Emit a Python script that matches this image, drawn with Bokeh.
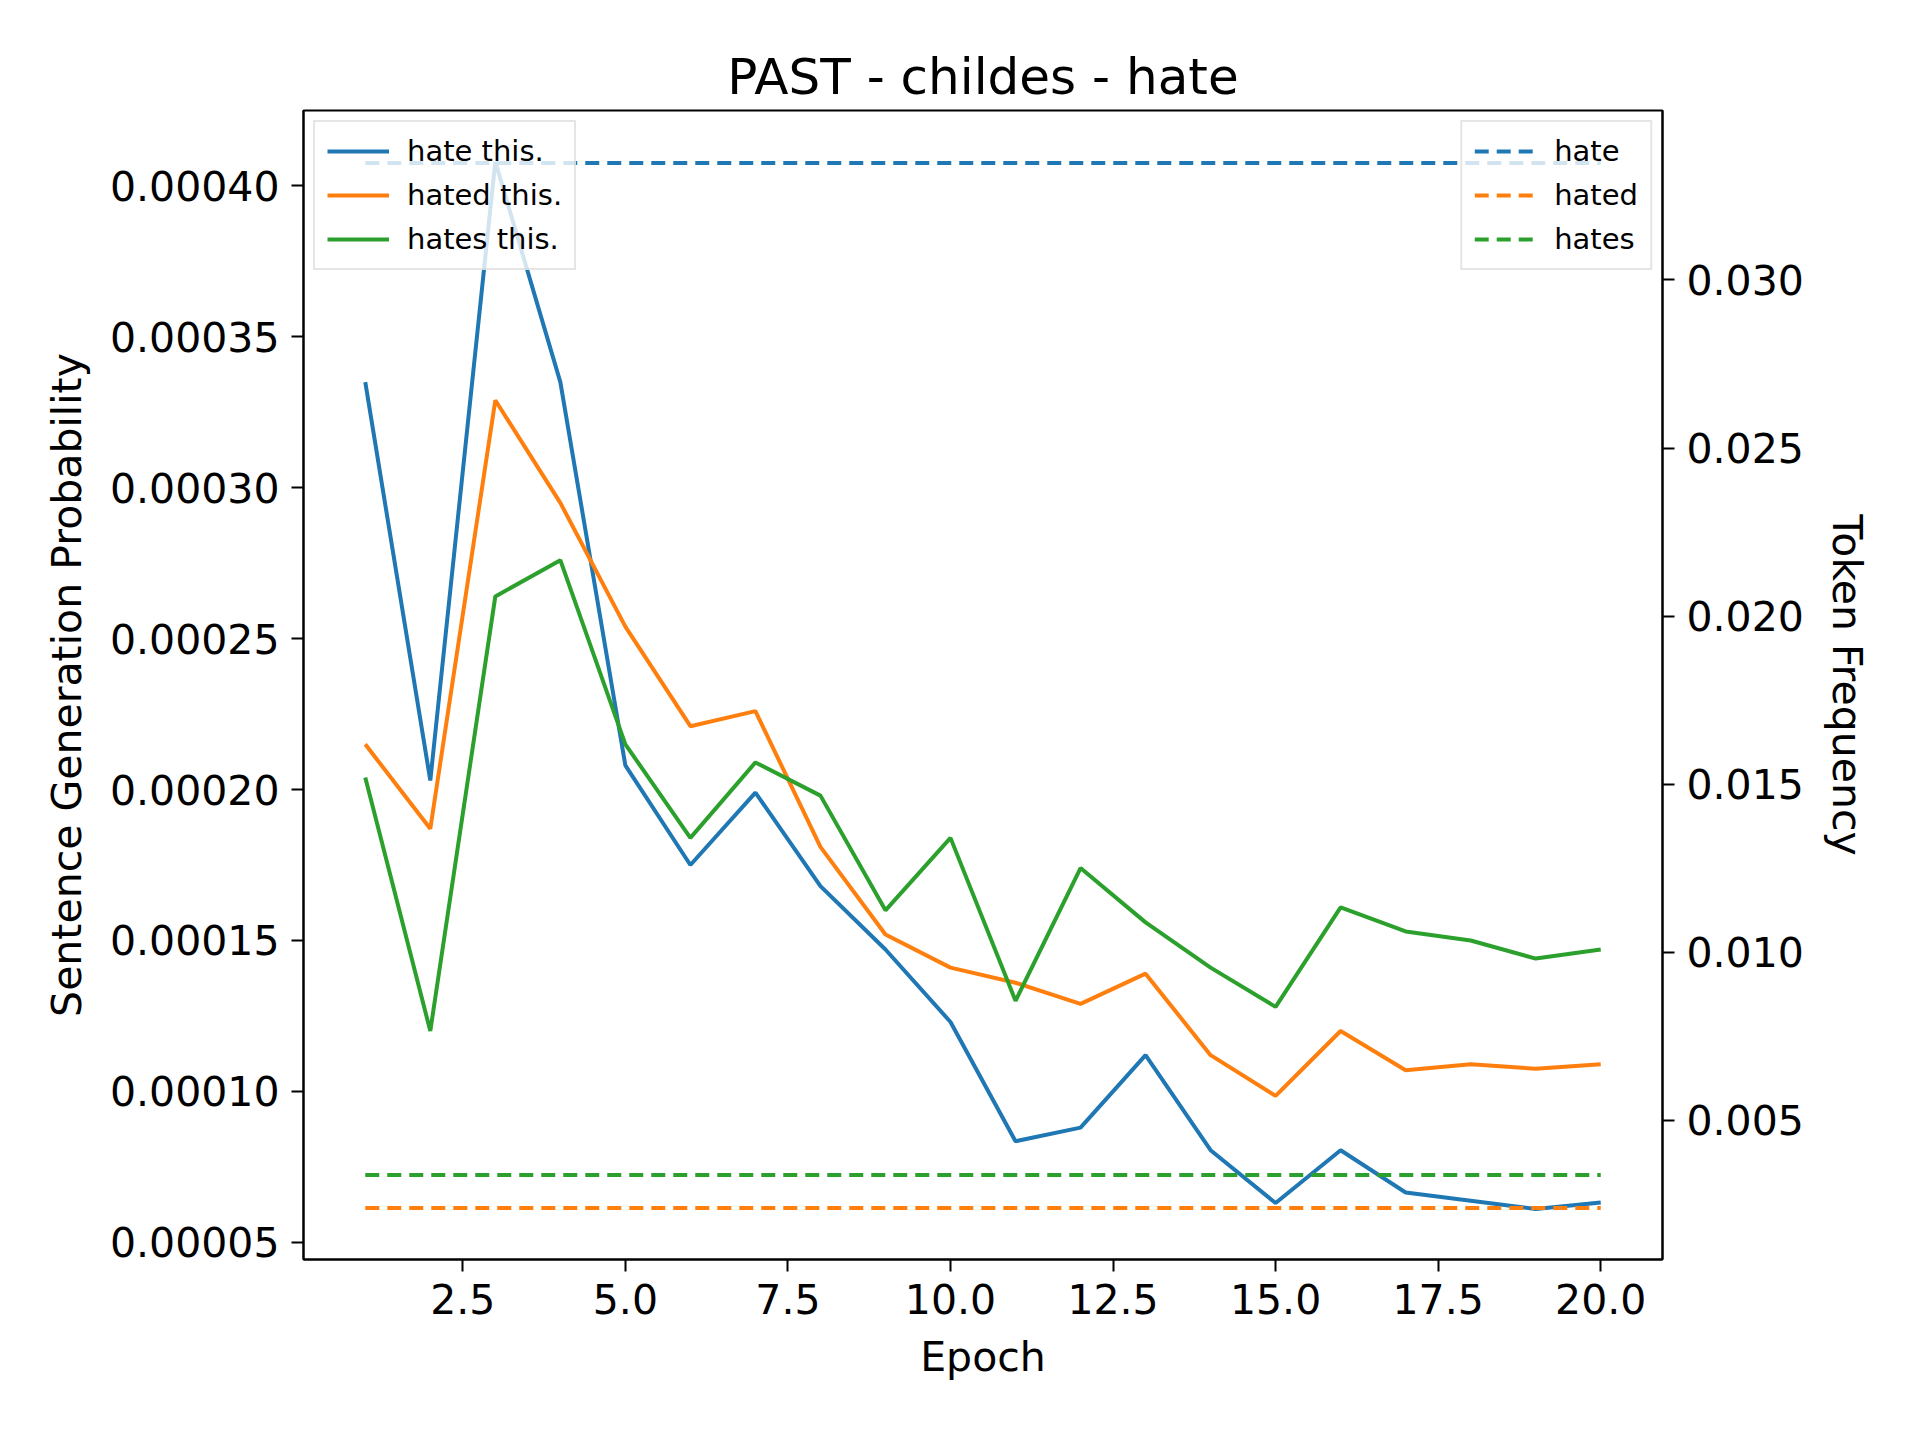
from bokeh.plotting import figure
from bokeh.models import Range1d, LinearAxis, Legend, LegendItem, FixedTicker, CustomJSTickFormatter
from bokeh.embed import file_html
from bokeh.resources import INLINE

epochs = list(range(1, 21))
hate_this = [0.000335, 0.000203, 0.000408, 0.000335, 0.000208, 0.000175, 0.000199, 0.000168, 0.000147, 0.000123,
             0.0000835, 0.000088, 0.000112, 0.0000805, 0.000063, 0.0000805, 0.0000665, 0.0000638, 0.000061, 0.0000632]
hated_this = [0.000215, 0.000187, 0.000329, 0.000295, 0.000254, 0.000221, 0.000226, 0.000181, 0.000152, 0.000141,
              0.000136, 0.000129, 0.000139, 0.000112, 0.0000985, 0.00012, 0.000107, 0.000109, 0.0001075, 0.000109]
hates_this = [0.000204, 0.00012, 0.000264, 0.000276, 0.000215, 0.000184, 0.000209, 0.000198, 0.00016, 0.000184,
              0.00013, 0.000174, 0.000156, 0.000141, 0.000128, 0.000161, 0.000153, 0.00015, 0.000144, 0.000147]
freq_hate = 0.03348
freq_hated = 0.00239
freq_hates = 0.00337

C = ["#1f77b4", "#ff7f0e", "#2ca02c"]
F = "DejaVu Sans"

p = figure(width=1904, height=1424, output_backend="svg", toolbar_location=None,
           x_range=Range1d(0.05, 20.95), y_range=Range1d(0.0000443, 0.000425),
           min_border_left=303, min_border_right=242, min_border_top=110, min_border_bottom=165,
           title="PAST - childes - hate")
p.title.text_font = F
p.title.text_font_size = "50px"
p.title.text_font_style = "normal"
p.title.text_color = "black"
p.title.align = "center"
p.grid.visible = False
p.outline_line_color = "black"
p.outline_line_width = 2
p.extra_y_ranges = {"r": Range1d(0.00086, 0.03504)}

r1 = p.line(epochs, hate_this, color=C[0], line_width=4)
r2 = p.line(epochs, hated_this, color=C[1], line_width=4)
r3 = p.line(epochs, hates_this, color=C[2], line_width=4)
d1 = p.line([1, 20], [freq_hate] * 2, color=C[0], line_width=4, line_dash="14 8", y_range_name="r")
d2 = p.line([1, 20], [freq_hated] * 2, color=C[1], line_width=4, line_dash="14 8", y_range_name="r")
d3 = p.line([1, 20], [freq_hates] * 2, color=C[2], line_width=4, line_dash="14 8", y_range_name="r")

ra = LinearAxis(y_range_name="r", axis_label="Token Frequency",
                ticker=FixedTicker(ticks=[0.005, 0.010, 0.015, 0.020, 0.025, 0.030]))
p.add_layout(ra, "right")
ra.axis_label_orientation = "vertical"
p.xaxis.ticker = FixedTicker(ticks=[2.5, 5, 7.5, 10, 12.5, 15, 17.5, 20])
p.xaxis.axis_label = "Epoch"
p.yaxis[0].ticker = FixedTicker(ticks=[0.00005, 0.0001, 0.00015, 0.0002, 0.00025, 0.0003, 0.00035, 0.0004])
p.yaxis[0].axis_label = "Sentence Generation Probability"
p.yaxis[0].formatter = CustomJSTickFormatter(code="return tick.toFixed(5);")
ra.formatter = CustomJSTickFormatter(code="return tick.toFixed(3);")
p.xaxis.formatter = CustomJSTickFormatter(code="return tick.toFixed(1);")
for ax in [p.xaxis[0], p.yaxis[0], ra]:
    ax.major_label_text_font = F
    ax.major_label_text_font_size = "41px"
    ax.major_label_text_color = "black"
    ax.axis_label_text_font = F
    ax.axis_label_text_font_size = "41px"
    ax.axis_label_text_font_style = "normal"
    ax.axis_label_text_color = "black"
    ax.minor_tick_line_color = None
    ax.major_tick_out = 12
    ax.major_tick_in = 0
    ax.major_tick_line_width = 2
    ax.axis_line_width = 2
    ax.major_label_standoff = 12
    ax.axis_label_standoff = 16

def mk(items, loc):
    lg = Legend(items=items, location=loc, label_text_font=F, label_text_font_size="29px",
                label_text_color="black",
                border_line_color="#cccccc", border_line_width=2, background_fill_alpha=0.8,
                glyph_width=62, label_standoff=18, spacing=10, padding=12, margin=10)
    p.add_layout(lg, "center")

mk([LegendItem(label="hate this.", renderers=[r1]), LegendItem(label="hated this.", renderers=[r2]),
    LegendItem(label="hates this.", renderers=[r3])], "top_left")
mk([LegendItem(label="hate", renderers=[d1]), LegendItem(label="hated", renderers=[d2]),
    LegendItem(label="hates", renderers=[d3])], "top_right")

open("out.html", "w").write(file_html(p, INLINE))
